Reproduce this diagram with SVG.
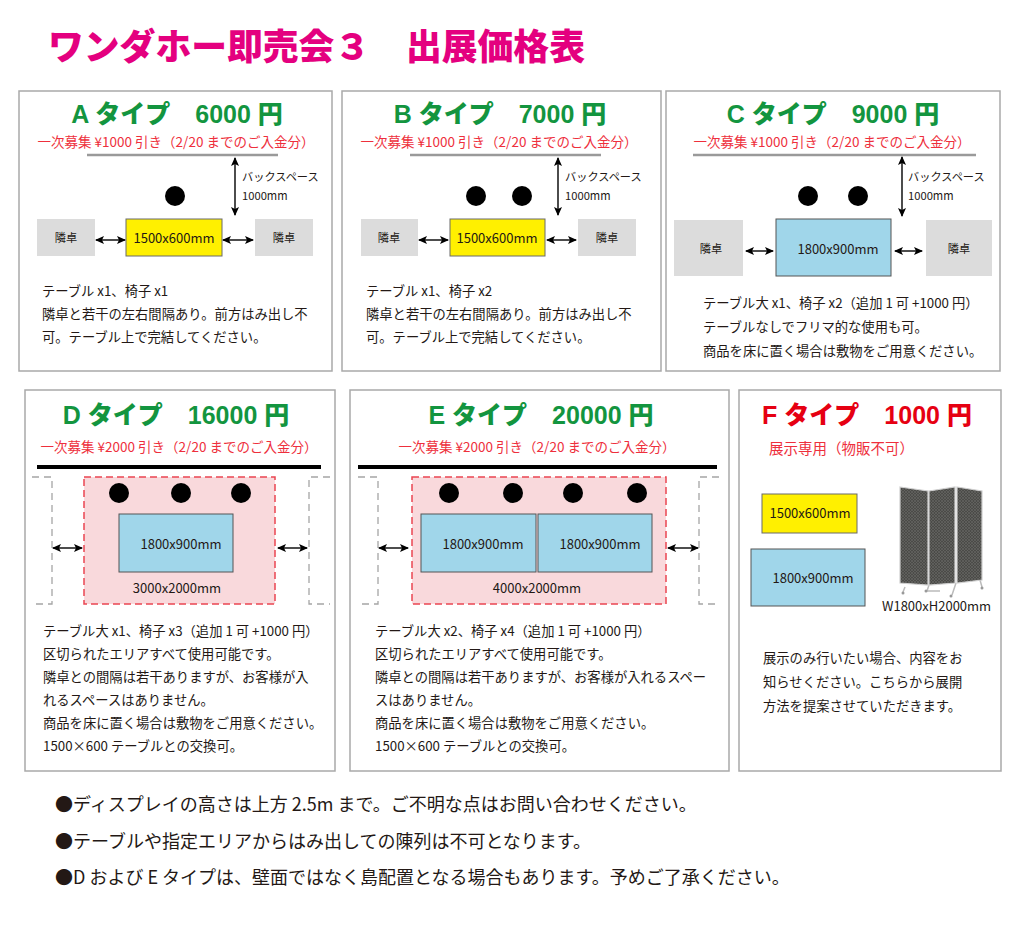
<svg xmlns="http://www.w3.org/2000/svg" width="1024" height="939" viewBox="0 0 1024 939">
<style>
.panel{fill:#fff;stroke:#a9a9a9;stroke-width:1.5}
.jp{font-family:"Noto Sans CJK JP","Noto Sans",sans-serif;fill:#231815}
.hd{font-family:"Liberation Sans","Noto Sans CJK JP",sans-serif;font-weight:900;font-size:25px;fill:#13953f;text-anchor:middle}
.sub{font-family:"Noto Sans CJK JP",sans-serif;font-size:13.5px;fill:#ee2f3c;text-anchor:middle}
.body{font-size:13.3px}
.small{font-size:11.2px}
.lbl{font-size:13px}
.mid{text-anchor:middle}
.rule{stroke:#9a9a9a;stroke-width:2.5}
.wall{stroke:#000;stroke-width:4}
.neighbor{fill:#dcdcdc}
.yellow{fill:#fff000;stroke:#6a6a6a;stroke-width:1}
.blue{fill:#a0d6ea;stroke:#555;stroke-width:1}
.area{fill:#f9d9dc;stroke:#ea4651;stroke-width:1.5;stroke-dasharray:7 4}
.bracket{fill:none;stroke:#a5a5a5;stroke-width:1.3;stroke-dasharray:7 5}
.chair{fill:#000}
.arr{stroke:#000;stroke-width:1.4;fill:none;marker-start:url(#ah);marker-end:url(#ah)}
.note{font-size:18px}
</style>
<defs>
<marker id="ah" markerUnits="userSpaceOnUse" markerWidth="9" markerHeight="8" refX="8" refY="4" orient="auto-start-reverse">
<path d="M0,0 L9,4 L0,8 L2,4 z" fill="#000"/>
</marker>
<pattern id="mesh" width="3" height="3" patternUnits="userSpaceOnUse">
<rect width="3" height="3" fill="#4b4b48"/>
<path d="M0,0 L3,3 M3,0 L0,3" stroke="#6a6a66" stroke-width="0.6"/>
</pattern>
</defs>
<rect width="1024" height="939" fill="#fff"/>

<text id="title" x="48" y="60" font-family="'Noto Sans CJK JP',sans-serif" font-weight="900" font-size="35.8" fill="#e4007f">ワンダホー即売会３　出展価格表</text>

<g id="panel-a">
<rect class="panel" x="19" y="91" width="313" height="280"/>
<text class="hd" x="177" y="123">A タイプ　6000 円</text>
<text class="sub" x="176" y="147">一次募集 ¥1000 引き（2/20 までのご入金分）</text>
<line class="rule" x1="87" y1="155" x2="278" y2="155"/>
<text class="jp small" x="242" y="181">バックスペース</text>
<text class="jp small" x="242" y="200">1000mm</text>
<circle class="chair" cx="175" cy="196" r="10"/>
<rect class="yellow" x="126" y="219" width="96" height="37"/>
<text class="jp lbl mid" x="174" y="243">1500x600mm</text>
<rect class="neighbor" x="37" y="219" width="58" height="37"/>
<text class="jp small mid" x="66" y="242">隣卓</text>
<rect class="neighbor" x="255" y="219" width="58" height="37"/>
<text class="jp small mid" x="284" y="242">隣卓</text>
<text class="jp body" x="42" y="296">テーブル x1、椅子 x1</text>
<text class="jp body" x="42" y="319">隣卓と若干の左右間隔あり。前方はみ出し不</text>
<text class="jp body" x="42" y="342">可。テーブル上で完結してください。</text>
</g>

<g id="panel-b">
<rect class="panel" x="342" y="91" width="319" height="280"/>
<text class="hd" x="500" y="123">B タイプ　7000 円</text>
<text class="sub" x="499" y="147">一次募集 ¥1000 引き（2/20 までのご入金分）</text>
<line class="rule" x1="410" y1="155" x2="601" y2="155"/>
<text class="jp small" x="565" y="181">バックスペース</text>
<text class="jp small" x="565" y="200">1000mm</text>
<circle class="chair" cx="476" cy="196" r="10"/>
<circle class="chair" cx="522" cy="196" r="10"/>
<rect class="yellow" x="450" y="219" width="95" height="37"/>
<text class="jp lbl mid" x="497" y="243">1500x600mm</text>
<rect class="neighbor" x="361" y="219" width="57" height="37"/>
<text class="jp small mid" x="389" y="242">隣卓</text>
<rect class="neighbor" x="578" y="219" width="58" height="37"/>
<text class="jp small mid" x="607" y="242">隣卓</text>
<text class="jp body" x="366" y="296">テーブル x1、椅子 x2</text>
<text class="jp body" x="366" y="319">隣卓と若干の左右間隔あり。前方はみ出し不</text>
<text class="jp body" x="366" y="342">可。テーブル上で完結してください。</text>
</g>

<g id="panel-c">
<rect class="panel" x="666" y="91" width="334" height="280"/>
<text class="hd" x="833" y="123">C タイプ　9000 円</text>
<text class="sub" x="832" y="147">一次募集 ¥1000 引き（2/20 までのご入金分）</text>
<line class="rule" x1="693" y1="155" x2="976" y2="155"/>
<text class="jp small" x="908" y="181">バックスペース</text>
<text class="jp small" x="908" y="200">1000mm</text>
<circle class="chair" cx="808" cy="196" r="10"/>
<circle class="chair" cx="858" cy="196" r="10"/>
<rect class="blue" x="776" y="219" width="115" height="57"/>
<text class="jp lbl mid" x="838" y="254">1800x900mm</text>
<rect class="neighbor" x="674" y="220" width="69" height="56"/>
<text class="jp small mid" x="711" y="253">隣卓</text>
<rect class="neighbor" x="926" y="220" width="66" height="56"/>
<text class="jp small mid" x="959" y="253">隣卓</text>
<text class="jp body" x="703" y="308">テーブル大 x1、椅子 x2（追加 1 可 +1000 円）</text>
<text class="jp body" x="703" y="332">テーブルなしでフリマ的な使用も可。</text>
<text class="jp body" x="703" y="356">商品を床に置く場合は敷物をご用意ください。</text>
</g>

<g id="panel-d">
<rect class="panel" x="25" y="390" width="310" height="381"/>
<text class="hd" x="176" y="424">D タイプ　16000 円</text>
<text class="sub" x="179" y="452">一次募集 ¥2000 引き（2/20 までのご入金分）</text>
<line class="wall" x1="37" y1="467" x2="321" y2="467"/>
<path class="bracket" d="M32,477 H52 V604 H32"/>
<path class="bracket" d="M330,477 H309 V604 H330"/>
<rect class="area" x="84" y="477" width="191" height="127"/>
<circle class="chair" cx="119" cy="493" r="10"/>
<circle class="chair" cx="181" cy="493" r="10"/>
<circle class="chair" cx="241" cy="493" r="10"/>
<rect class="blue" x="119" y="514" width="114" height="58"/>
<text class="jp lbl mid" x="181" y="549">1800x900mm</text>
<text class="jp lbl mid" x="177" y="593">3000x2000mm</text>
<text class="jp body" x="43" y="636">テーブル大 x1、椅子 x3（追加 1 可 +1000 円）</text>
<text class="jp body" x="43" y="659">区切られたエリアすべて使用可能です。</text>
<text class="jp body" x="43" y="682">隣卓との間隔は若干ありますが、お客様が入</text>
<text class="jp body" x="43" y="705">れるスペースはありません。</text>
<text class="jp body" x="43" y="728">商品を床に置く場合は敷物をご用意ください。</text>
<text class="jp body" x="43" y="751">1500×600 テーブルとの交換可。</text>
</g>

<g id="panel-e">
<rect class="panel" x="350" y="390" width="379" height="381"/>
<text class="hd" x="541" y="424">E タイプ　20000 円</text>
<text class="sub" x="537" y="452">一次募集 ¥2000 引き（2/20 までのご入金分）</text>
<line class="wall" x1="358" y1="467" x2="717" y2="467"/>
<path class="bracket" d="M358,477 H378 V604 H358"/>
<path class="bracket" d="M719,477 H699 V604 H719"/>
<rect class="area" x="412" y="477" width="254" height="127"/>
<circle class="chair" cx="449" cy="493" r="10"/>
<circle class="chair" cx="513" cy="493" r="10"/>
<circle class="chair" cx="573" cy="493" r="10"/>
<circle class="chair" cx="637" cy="493" r="10"/>
<rect class="blue" x="421" y="514" width="115" height="58"/>
<rect class="blue" x="538" y="514" width="114" height="58"/>
<text class="jp lbl mid" x="483" y="549">1800x900mm</text>
<text class="jp lbl mid" x="600" y="549">1800x900mm</text>
<text class="jp lbl mid" x="537" y="593">4000x2000mm</text>
<text class="jp body" x="375" y="636">テーブル大 x2、椅子 x4（追加 1 可 +1000 円）</text>
<text class="jp body" x="375" y="659">区切られたエリアすべて使用可能です。</text>
<text class="jp body" x="375" y="682">隣卓との間隔は若干ありますが、お客様が入れるスペー</text>
<text class="jp body" x="375" y="705">スはありません。</text>
<text class="jp body" x="375" y="728">商品を床に置く場合は敷物をご用意ください。</text>
<text class="jp body" x="375" y="751">1500×600 テーブルとの交換可。</text>
</g>

<g id="panel-f">
<rect class="panel" x="739" y="390" width="262" height="381"/>
<text class="hd" x="867" y="424" style="fill:#e60012">F タイプ　1000 円</text>
<text class="jp" x="769" y="454" font-size="14.5" style="fill:#ee2f3c">展示専用（物販不可）</text>
<rect class="yellow" x="762" y="494" width="95" height="39"/>
<text class="jp lbl mid" x="810" y="518">1500x600mm</text>
<rect class="blue" x="751" y="549" width="114" height="57"/>
<text class="jp lbl mid" x="813" y="583">1800x900mm</text>
<g id="partition">
<path d="M905,587 L903,592 M929,585 L927,591 L940,591 M956,583 L952,595 M980,580 L982,587" stroke="#bbb" stroke-width="1.5" fill="none"/>
<polygon points="900,487 928,491 928,585 900,583" fill="url(#mesh)" stroke="#cfcfcf" stroke-width="1.2"/>
<polygon points="929,491 955,487 955,583 929,585" fill="url(#mesh)" stroke="#cfcfcf" stroke-width="1.2"/>
<polygon points="957,487 982,491 982,580 957,583" fill="url(#mesh)" stroke="#cfcfcf" stroke-width="1.2"/>
<circle cx="903" cy="593" r="1.5" fill="#999"/><circle cx="926" cy="591" r="1.5" fill="#999"/><circle cx="951" cy="596" r="1.5" fill="#999"/><circle cx="982" cy="588" r="1.5" fill="#999"/>
</g>
<text class="jp" x="882" y="611" font-size="13">W1800xH2000mm</text>
<text class="jp body" x="763" y="663">展示のみ行いたい場合、内容をお</text>
<text class="jp body" x="763" y="687">知らせください。こちらから展開</text>
<text class="jp body" x="763" y="711">方法を提案させていただきます。</text>
</g>

<g id="connectors">
<line class="arr" x1="235" y1="158" x2="235" y2="215"/>
<line class="arr" x1="96" y1="240" x2="125" y2="240"/>
<line class="arr" x1="223" y1="240" x2="253" y2="240"/>
<line class="arr" x1="558" y1="158" x2="558" y2="215"/>
<line class="arr" x1="419" y1="240" x2="448" y2="240"/>
<line class="arr" x1="547" y1="240" x2="576" y2="240"/>
<line class="arr" x1="902" y1="157" x2="902" y2="216"/>
<line class="arr" x1="746" y1="251" x2="773" y2="251"/>
<line class="arr" x1="895" y1="251" x2="922" y2="251"/>
<line class="arr" x1="53" y1="548" x2="82" y2="548"/>
<line class="arr" x1="278" y1="548" x2="307" y2="548"/>
<line class="arr" x1="379" y1="548" x2="408" y2="548"/>
<line class="arr" x1="668" y1="548" x2="698" y2="548"/>
</g>

<g id="notes">
<text class="jp note" x="55" y="811">●ディスプレイの高さは上方 2.5m まで。ご不明な点はお問い合わせください。</text>
<text class="jp note" x="55" y="848">●テーブルや指定エリアからはみ出しての陳列は不可となります。</text>
<text class="jp note" x="55" y="884">●D および E タイプは、壁面ではなく島配置となる場合もあります。予めご了承ください。</text>
</g>
</svg>
